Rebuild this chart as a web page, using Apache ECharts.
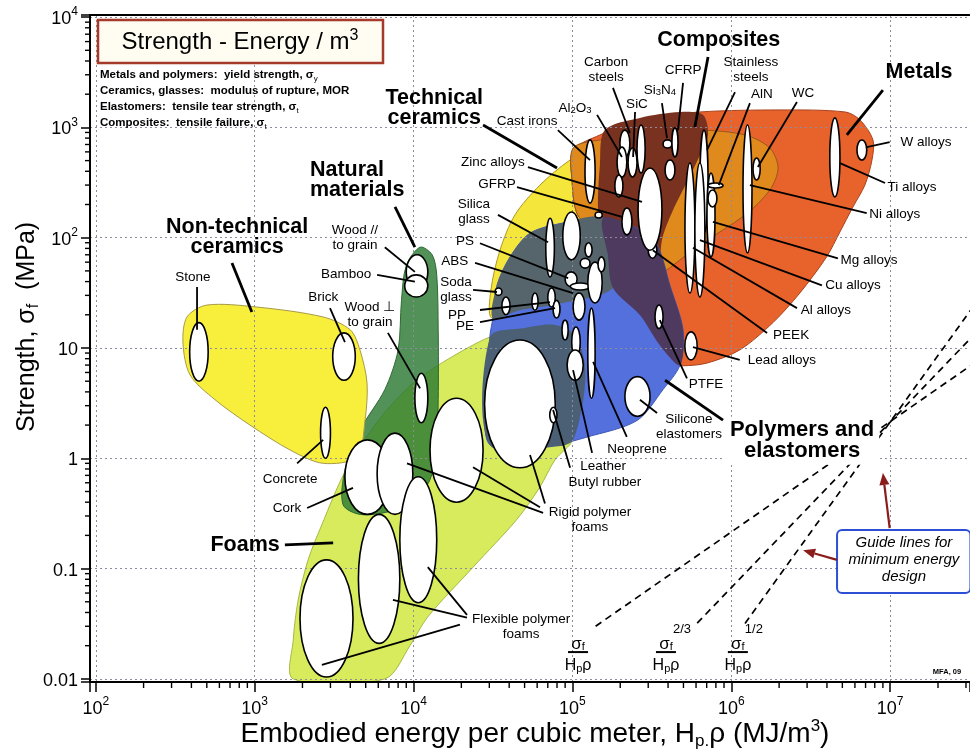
<!DOCTYPE html>
<html>
<head>
<meta charset="utf-8">
<title>Strength - Energy / m3</title>
<script src="https://cdn.jsdelivr.net/npm/echarts@6/dist/echarts.min.js"></script>
<style>
  html, body { margin: 0; padding: 0; background: #fff; }
  #chart { width: 970px; height: 752px; }
</style>
</head>
<body>
<div id="chart"></div>
<script>
const FONT = "'Liberation Sans', Arial, Helvetica, sans-serif";
const INK = '#000';

// Axis extents: embodied energy (MJ/m3) and strength (MPa)
const energyRange = [92, 3.18e7];
const strengthRange = [0.00937, 10450];
const strengthPlainLabels = { '-2': '0.01', '-1': '0.1', '0': '1', '1': '10' };
const minorTickSteps = [2, 3, 4, 5, 6, 7, 8, 9];
const energyDecades = [2, 3, 4, 5, 6, 7];
const strengthDecades = [-2, -1, 0, 1, 2, 3];

// Family envelopes, points as [energy, strength]
const foamsEnvelope = [[1750,0.01],[1750,0.0225],[1880,0.052],[2170,0.12],[2650,0.25],[3700,0.75],[6000,2.2],[9900,4.8],[16200,7.8],[30300,12.6],[50300,15.2],[77800,16.2],[104000,13.1],[120000,7.0],[117000,3.4],[101000,1.47],[77800,0.97],[62500,0.55],[44800,0.28],[23700,0.103],[12200,0.036],[9500,0.02],[6600,0.01]];
const naturalEnvelope = [[11000,82],[13100,70],[14000,46],[14300,14.6],[14300,3.4],[13900,1.19],[12700,0.64],[10200,0.42],[7100,0.33],[4600,0.31],[3600,0.38],[3700,0.78],[4600,1.8],[6600,4.2],[8000,9.6],[8400,27],[9000,56]];
const nonTechCeramicsEnvelope = [[500,24.5],[1035,23.5],[2700,19.1],[4000,14.6],[4600,9.6],[5100,4.8],[4950,2.2],[4400,1.03],[2700,0.9],[1670,1.19],[935,2.0],[563,3.4],[392,5.7],[354,11.1],[375,19.1]];
const techCeramicsEnvelope = [[31000,18.7],[30700,33.6],[35000,77],[43500,161],[62500,300],[96700,506],[149000,692],[308000,890],[635000,945],[1220000,854],[1750000,650],[1970000,428],[1750000,271],[1220000,161],[635000,86],[355000,46],[191000,33.6],[87300,25.6],[46700,22]];
const metalsEnvelope = [[101000,620],[149000,854],[266000,1170],[635000,1380],[2020000,1440],[5200000,1380],[6450000,1170],[7790000,770],[7680000,506],[6930000,300],[5830000,190],[4830000,113],[3980000,67],[2700000,31.5],[1830000,17],[1130000,9.6],[703000,7.3],[497000,6.9],[400000,7.2],[341000,11.8],[308000,27],[230000,56],[149000,106],[108000,161],[99400,334]];
const ceramicMetalOverlap = [[101000,650],[149000,770],[308000,890],[635000,945],[1220000,854],[1750000,650],[1970000,428],[1750000,271],[1220000,161],[635000,86],[355000,46],[266000,37],[230000,56],[149000,106],[108000,161],[99400,334]];
const compositesEnvelope = [[160000,945],[266000,1220],[475000,1380],[663000,1300],[714000,854],[635000,562],[534000,334],[430000,178],[366000,95],[355000,46],[341000,24.5],[248000,27],[177000,37],[156000,77],[145000,178],[149000,456]];
const polymersEnvelope = [[31600,18.7],[33500,37],[40500,67],[54100,110],[87300,136],[156000,151],[255000,122],[341000,86],[411000,37],[497000,14.6],[475000,7.0],[372000,4.2],[255000,2.2],[124000,1.56],[75600,1.32],[30300,1.32],[29400,5.1],[30300,13.1]];
const polymerCeramicOverlap = [[31600,18.7],[33500,37],[40500,67],[54100,110],[87300,136],[156000,151],[167000,70],[180000,35],[87300,25.6],[46700,22]];
const polymerCompositeOverlap = [[156000,151],[255000,122],[341000,86],[411000,37],[497000,14.6],[475000,7.0],[355000,10.6],[266000,19.9],[180000,35],[167000,70]];
const polymerFoamOverlap = [[30300,12.6],[50300,15.2],[77800,16.2],[104000,13.1],[120000,7.0],[117000,3.4],[101000,1.47],[84700,1.29],[30300,1.32]];

// Material property ranges: [name, energy low, energy high, strength low, strength high]
const ceramicAndNaturalMaterials = [
  ['Stone', 390, 510, 5, 17],
  ['Brick', 3100, 4300, 5.1, 13.7],
  ['Concrete', 2600, 3000, 1.0, 2.9],
  ['Wood, parallel to grain', 9000, 12300, 34, 70],
  ['Bamboo', 8800, 12300, 29, 46],
  ['Wood, transverse to grain', 10200, 12300, 2.1, 5.9]
];
const foamMaterials = [
  ['Cork', 3700, 7100, 0.31, 1.47],
  ['Rigid polymer foam, low density', 5900, 9900, 0.31, 1.69],
  ['Rigid polymer foam, medium density', 12700, 27400, 0.40, 3.5],
  ['Rigid polymer foam, high density', 28000, 78000, 0.82, 11.8],
  ['Flexible polymer foam, low density', 1930, 4160, 0.0104, 0.12],
  ['Flexible polymer foam, medium density', 4500, 8200, 0.021, 0.31],
  ['Flexible polymer foam, high density', 8200, 14000, 0.049, 0.68]
];
const polymerAndGlassMaterials = [
  ['Silica glass', 68000, 77000, 44, 150],
  ['Borosilicate glass', 87000, 112000, 63, 171],
  ['PS', 90000, 107000, 36, 49],
  ['ABS', 97000, 129000, 33.6, 38.8],
  ['PC', 101000, 120000, 17.9, 31.5],
  ['PMMA', 125000, 154000, 25.6, 60],
  ['PA', 112000, 129000, 53, 65],
  ['PET', 120000, 133000, 67, 90],
  ['Epoxies', 145000, 160000, 49, 67],
  ['Soda glass', 32600, 36000, 30, 35],
  ['PP', 36000, 40500, 20, 29],
  ['PE', 55600, 60800, 22, 31.5],
  ['Ionomer', 70000, 78000, 23.5, 35],
  ['EVA', 75600, 83500, 18.7, 27],
  ['Polyurethane', 86000, 94000, 11.8, 17.9],
  ['Isoprene', 99000, 112000, 8.3, 15.5],
  ['Leather', 92600, 117000, 5.1, 9.6],
  ['Neoprene', 125000, 139000, 3.5, 23],
  ['Butyl rubber', 72000, 80000, 2.1, 2.9],
  ['Silicone elastomers', 214000, 308000, 2.4, 5.5],
  ['PTFE', 331000, 372000, 15, 24.5],
  ['PEEK', 300000, 340000, 65, 91]
];
const metalAndCompositeMaterials = [
  ['Lead alloys', 510000, 610000, 7.8, 14],
  ['GFRP', 205000, 237000, 106, 186],
  ['Boron carbide', 139000, 154000, 151, 171],
  ['Zinc alloys', 259000, 366000, 77, 428],
  ['Cast irons', 120000, 139000, 206, 770],
  ['Al2O3', 199000, 230000, 540, 945],
  ['Carbon steels', 191000, 220000, 355, 663],
  ['Low alloy steels', 185000, 208000, 234, 370],
  ['SiC', 224000, 255000, 355, 650],
  ['Tool steels', 255000, 287000, 386, 1050],
  ['Si3N4', 372000, 423000, 650, 770],
  ['CFRP', 423000, 462000, 540, 990],
  ['Tin alloys', 383000, 442000, 334, 506],
  ['Stainless steels', 635000, 714000, 110, 945],
  ['Al alloys', 511000, 590000, 31.5, 475],
  ['Mg alloys', 590000, 682000, 29, 475],
  ['Cu alloys', 703000, 790000, 67, 386],
  ['AlN', 714000, 887000, 282, 313],
  ['Brass', 714000, 812000, 190, 271],
  ['Ni alloys', 1185000, 1350000, 73, 1050],
  ['WC', 1370000, 1520000, 334, 528],
  ['Ti alloys', 4170000, 4830000, 234, 1220],
  ['W alloys', 6180000, 7120000, 506, 769]
];

// Minimum-energy guide lines, sigma^n / (Hp rho) = const for n = 1, 2/3, 1/2: [E1, s1, E2, s2]
const guideLines = [
  [1.4e5, 0.030, 3.2e7, 6.9],
  [6.1e5, 0.032, 3.2e7, 12.2],
  [1.22e6, 0.0318, 3.2e7, 21.9]
];
const guideIndexLabels = [['', 1.085e5], ['2/3', 3.88e5], ['1/2', 1.1e6]];
const guideIndexStrength = 0.0175;

// Family labels and their leader lines
const familyLabels = [
  ['Composites', 834000, 6200, 'center'],
  ['Metals', 1.52e7, 3180, 'center'],
  ['Technical\nceramics', 13500, 1500, 'center'],
  ['Natural\nmaterials', 2230, 334, 'left'],
  ['Non-technical\nceramics', 776, 101, 'center'],
  ['Foams', 871, 0.164, 'center']
];
const polymerFamilyLabel = ['Polymers and\nelastomers', 2790000, 1.44];
const familyLeaders = [
  [714000, 4350, 590000, 1010],
  [9000000, 2180, 5340000, 854],
  [27400, 1050, 80000, 428],
  [7650, 190, 10200, 82],
  [720, 59, 960, 21.2],
  [1550, 0.164, 3120, 0.171],
  [887000, 2.22, 383000, 5.1]
];

// Material labels and leader lines
const materialLabels = [
  ['Stone', 409, 44], ['Brick', 2700, 29], ['Wood //\nto grain', 4280, 100], ['Bamboo', 3760, 47],
  ['Wood \u22a5\nto grain', 5320, 20], ['Concrete', 1670, 0.65], ['Cork', 1600, 0.354],
  ['Rigid polymer\nfoams', 129000, 0.276], ['Flexible polymer\nfoams', 47500, 0.0295],
  ['Leather', 156000, 0.85], ['Butyl rubber', 160000, 0.61], ['Neoprene', 255000, 1.21],
  ['Silicone\nelastomers', 541000, 1.92], ['PTFE', 693000, 4.7], ['Lead alloys', 2080000, 7.8],
  ['PEEK', 2380000, 13.1], ['Al alloys', 3940000, 22], ['Cu alloys', 5830000, 37],
  ['Mg alloys', 7350000, 63], ['Ni alloys', 10700000, 164], ['Ti alloys', 13700000, 288],
  ['W alloys', 16800000, 737], ['WC', 2830000, 2050], ['AlN', 1560000, 2010],
  ['Stainless\nsteels', 1330000, 3310], ['CFRP', 497000, 3310], ['Si{sub|3}N{sub|4}', 355000, 2180],
  ['SiC', 255000, 1630], ['Carbon\nsteels', 163000, 3310], ['Al{sub|2}O{sub|3}', 104000, 1500],
  ['Cast irons', 51800, 1140], ['Zinc alloys', 31600, 485], ['GFRP', 33500, 307],
  ['Silica\nglass', 24000, 171], ['PS', 21100, 93], ['ABS', 18200, 61], ['Soda\nglass', 18500, 33.6],
  ['PP', 18800, 19.9], ['PE', 21100, 15.8]
];
const materialLeaders = [
  [434, 35.7, 434, 14.6], [2980, 23, 3700, 11.3], [6600, 82, 10200, 49], [5900, 46, 10200, 40],
  [6900, 13.7, 11000, 4.3], [1850, 0.9, 2700, 1.47], [2140, 0.354, 4160, 0.54],
  [65400, 0.32, 9100, 0.9], [62500, 0.36, 23700, 0.83], [67200, 0.39, 54100, 1.07],
  [21700, 0.036, 7420, 0.052], [21700, 0.038, 12300, 0.103], [19600, 0.031, 2650, 0.0134],
  [133000, 1.12, 101000, 6.3], [96700, 0.82, 75600, 2.74], [220000, 1.56, 135000, 7.5],
  [341000, 2.57, 266000, 3.4], [526000, 5.3, 355000, 17.9], [1130000, 7.8, 574000, 10.2],
  [1680000, 13.7, 321000, 77], [2590000, 23, 574000, 81], [3720000, 37, 635000, 95],
  [4690000, 65, 766000, 139], [7120000, 167, 1310000, 300], [9280000, 313, 4830000, 475],
  [9930000, 737, 7120000, 663], [2590000, 1700, 1470000, 437], [1310000, 1660, 834000, 300],
  [1055000, 2090, 703000, 623], [497000, 2530, 462000, 945], [366000, 1660, 394000, 800],
  [248000, 1380, 241000, 540], [180000, 2280, 230000, 890], [143000, 1300, 205000, 540],
  [81000, 945, 129000, 506], [52500, 437, 274000, 211], [44800, 288, 208000, 154],
  [34000, 161, 70300, 91], [26200, 89, 94000, 43], [24400, 59, 101000, 31.5],
  [23700, 33.6, 33500, 32.2], [26200, 22.1, 72200, 26.1], [26200, 17.2, 77800, 23]
];

// Guide-line note box and its arrows
const noteBox = [4.63e6, 0.224, 3.2e7, 0.06];
const noteAnchor = [1.22e7, 0.12];
const noteArrows = [[9.93e6, 0.233, 9.0e6, 0.736], [4.63e6, 0.12, 2.83e6, 0.147]];
const creditAnchor = [2.28e7, 0.0116];

// Drawing order and fills of the envelopes
const envelopeLayers = [
  { pts: foamsEnvelope, fill: '#d8eb5c', stroke: '#a9b845' },
  { pts: naturalEnvelope, fill: 'rgba(44,122,52,0.82)', stroke: '#2e6a33' },
  { pts: nonTechCeramicsEnvelope, fill: '#f8ef3c', stroke: '#a89a4a' },
  { pts: techCeramicsEnvelope, fill: '#f4e63a', stroke: '#b0962a' },
  { pts: metalsEnvelope, fill: '#e8622c', stroke: '#a8421c' },
  { pts: ceramicMetalOverlap, fill: '#e0891c', stroke: '#98561a' },
  { pts: compositesEnvelope, fill: '#7a3220', stroke: null },
  { pts: polymersEnvelope, fill: '#5470dc', stroke: '#4058b4' },
  { pts: polymerCeramicOverlap, fill: '#56656c', stroke: null },
  { pts: polymerCompositeOverlap, fill: '#4d3a5e', stroke: null },
  { pts: polymerFoamOverlap, fill: '#4b5f75', stroke: null }
];

function powerLabel(v, plain) {
  const e = Math.log10(v), r = Math.round(e);
  if (Math.abs(e - r) > 1e-3) return '';
  if (plain && plain[r] !== undefined) return '{b|' + plain[r] + '}';
  return '{b|10}{s|' + r + '}';
}
const tickRich = {
  b: { fontSize: 18, fontFamily: FONT, color: INK, lineHeight: 22, verticalAlign: 'bottom' },
  s: { fontSize: 12, fontFamily: FONT, color: INK, lineHeight: 12, verticalAlign: 'top' }
};
const gridLineStyle = { color: '#8c8c9c', width: 1, type: [2, 3] };

function txt(text, x, y, o) {
  const st = Object.assign({
    text: text, fill: INK, fontFamily: FONT, fontSize: 13.5, fontWeight: 'normal',
    align: 'center', textAlign: 'center', verticalAlign: 'middle', textVerticalAlign: 'middle'
  }, o || {});
  if (st.align) st.textAlign = st.align;
  return { type: 'text', x: x, y: y, style: st };
}
const subRich = (size) => ({
  sub: { fontSize: size, fontFamily: FONT, fill: INK, color: INK, lineHeight: size, verticalAlign: 'bottom' },
  sup: { fontSize: size, fontFamily: FONT, fill: INK, color: INK, lineHeight: size, verticalAlign: 'top' }
});

const allMaterials = ceramicAndNaturalMaterials.concat(foamMaterials, polymerAndGlassMaterials, metalAndCompositeMaterials);

const series = [
  // envelopes
  {
    type: 'custom', z: 1, silent: true, clip: true,
    data: envelopeLayers.map(l => [l.pts[0][0], l.pts[0][1]]),
    encode: { x: 0, y: 1 },
    renderItem(params, api) {
      const l = envelopeLayers[params.dataIndex];
      return {
        type: 'polygon',
        shape: { points: l.pts.map(p => api.coord(p)), smooth: 0.3 },
        style: { fill: l.fill, stroke: l.stroke || 'none', lineWidth: l.stroke ? 1 : 0 }
      };
    }
  },
  // minor log ticks on both axes
  {
    type: 'custom', z: 3, silent: true, clip: false,
    data: [[energyRange[0], strengthRange[0]]],
    encode: { x: 0, y: 1 },
    renderItem(params, api) {
      const o = api.coord([energyRange[0], strengthRange[0]]);
      const children = [];
      energyDecades.forEach(d => minorTickSteps.forEach(k => {
        const v = k * Math.pow(10, d);
        if (v <= energyRange[0] || v >= energyRange[1]) return;
        const x = api.coord([v, strengthRange[0]])[0];
        children.push({ type: 'line', shape: { x1: x, y1: o[1], x2: x, y2: o[1] + 6 }, style: { stroke: INK, lineWidth: 1.4 } });
      }));
      strengthDecades.forEach(d => minorTickSteps.forEach(k => {
        const v = k * Math.pow(10, d);
        if (v <= strengthRange[0] || v >= strengthRange[1]) return;
        const y = api.coord([energyRange[0], v])[1];
        children.push({ type: 'line', shape: { x1: o[0], y1: y, x2: o[0] - 5, y2: y }, style: { stroke: INK, lineWidth: 1.4 } });
      }));
      return { type: 'group', children: children };
    }
  },
  // guide lines
  {
    type: 'custom', z: 4, silent: true, clip: true,
    data: guideLines,
    encode: { x: [0, 2], y: [1, 3] },
    renderItem(params, api) {
      const a = api.coord([api.value(0), api.value(1)]);
      const b = api.coord([api.value(2), api.value(3)]);
      return { type: 'line', shape: { x1: a[0], y1: a[1], x2: b[0], y2: b[1] },
        style: { stroke: INK, lineWidth: 1.7, lineDash: [7, 5] } };
    }
  },
  // material ellipses
  {
    type: 'custom', z: 5, silent: true, clip: true,
    data: allMaterials.map(m => [m[1], m[2], m[3], m[4]]),
    encode: { x: [0, 1], y: [2, 3] },
    renderItem(params, api) {
      const a = api.coord([api.value(0), api.value(2)]);
      const b = api.coord([api.value(1), api.value(3)]);
      return { type: 'ellipse',
        shape: { cx: (a[0] + b[0]) / 2, cy: (a[1] + b[1]) / 2, rx: Math.abs(b[0] - a[0]) / 2, ry: Math.abs(b[1] - a[1]) / 2 },
        style: { fill: '#fff', stroke: INK, lineWidth: 1.6 } };
    }
  },
  // leader lines
  {
    type: 'custom', z: 6, silent: true, clip: false,
    data: materialLeaders,
    encode: { x: [0, 2], y: [1, 3] },
    renderItem(params, api) {
      const a = api.coord([api.value(0), api.value(1)]);
      const b = api.coord([api.value(2), api.value(3)]);
      return { type: 'line', shape: { x1: a[0], y1: a[1], x2: b[0], y2: b[1] }, style: { stroke: INK, lineWidth: 1.8 } };
    }
  },
  {
    type: 'custom', z: 6, silent: true, clip: false,
    data: familyLeaders,
    encode: { x: [0, 2], y: [1, 3] },
    renderItem(params, api) {
      const a = api.coord([api.value(0), api.value(1)]);
      const b = api.coord([api.value(2), api.value(3)]);
      return { type: 'line', shape: { x1: a[0], y1: a[1], x2: b[0], y2: b[1] }, style: { stroke: INK, lineWidth: 2.8 } };
    }
  },
  // material labels
  {
    type: 'custom', z: 7, silent: true, clip: false,
    data: materialLabels.map(l => [l[1], l[2]]),
    encode: { x: 0, y: 1 },
    renderItem(params, api) {
      const l = materialLabels[params.dataIndex];
      const p = api.coord([l[1], l[2]]);
      return txt(l[0], p[0], p[1], { lineHeight: 15, rich: subRich(9.5) });
    }
  },
  // family labels
  {
    type: 'custom', z: 7, silent: true, clip: false,
    data: familyLabels.map(l => [l[1], l[2]]),
    encode: { x: 0, y: 1 },
    renderItem(params, api) {
      const l = familyLabels[params.dataIndex];
      const p = api.coord([l[1], l[2]]);
      return txt(l[0], p[0], p[1], { fontSize: 21.5, fontWeight: 'bold', lineHeight: 20, align: l[3] });
    }
  },
  {
    type: 'custom', z: 8, silent: true, clip: false,
    data: [[polymerFamilyLabel[1], polymerFamilyLabel[2]]],
    encode: { x: 0, y: 1 },
    renderItem(params, api) {
      const p = api.coord([polymerFamilyLabel[1], polymerFamilyLabel[2]]);
      return txt(polymerFamilyLabel[0], p[0], p[1], { fontSize: 22, fontWeight: 'bold', lineHeight: 21,
        backgroundColor: '#fff', padding: [3, 5, 3, 5] });
    }
  },
  // guide-line index labels
  {
    type: 'custom', z: 7, silent: true, clip: false,
    data: guideIndexLabels.map(g => [g[1], guideIndexStrength]),
    encode: { x: 0, y: 1 },
    renderItem(params, api) {
      const g = guideIndexLabels[params.dataIndex];
      const p = api.coord([g[1], guideIndexStrength]);
      const kids = [
        txt('\u03c3{sub|f}', p[0], p[1] - 8, { fontSize: 17, rich: subRich(11) }),
        { type: 'line', shape: { x1: p[0] - 10, y1: p[1], x2: p[0] + 10, y2: p[1] }, style: { stroke: INK, lineWidth: 2 } },
        txt('H{sub|p}\u03c1', p[0], p[1] + 14, { fontSize: 16, rich: subRich(11) })
      ];
      if (g[0]) kids.push(txt(g[0], p[0] + 7, p[1] - 23, { fontSize: 13, align: 'left' }));
      return { type: 'group', children: kids };
    }
  },
  // guide note box, arrows and credit
  {
    type: 'custom', z: 8, silent: true, clip: false,
    data: [[noteBox[0], noteBox[1]]],
    encode: { x: 0, y: 1 },
    renderItem(params, api) {
      const a = api.coord([noteBox[0], noteBox[1]]);
      const b = api.coord([noteBox[2], noteBox[3]]);
      const t = api.coord(noteAnchor);
      const c = api.coord(creditAnchor);
      const kids = [
        { type: 'rect', shape: { x: a[0], y: a[1], width: b[0] - a[0], height: b[1] - a[1], r: 5 },
          style: { fill: '#fff', stroke: '#2c4fd6', lineWidth: 2 } },
        txt('Guide lines for\nminimum energy\ndesign', t[0], t[1], { fontSize: 15, fontStyle: 'italic', lineHeight: 17 }),
        txt('MFA, 09', c[0], c[1], { fontSize: 7.5, fontWeight: 'bold' })
      ];
      noteArrows.forEach(ar => {
        const s = api.coord([ar[0], ar[1]]);
        const e = api.coord([ar[2], ar[3]]);
        const ang = Math.atan2(e[1] - s[1], e[0] - s[0]);
        const L = 12, W = 5;
        const bx = e[0] - L * Math.cos(ang), by = e[1] - L * Math.sin(ang);
        kids.push({ type: 'line', shape: { x1: s[0], y1: s[1], x2: bx, y2: by }, style: { stroke: '#8b1c1c', lineWidth: 2.2 } });
        kids.push({ type: 'polygon', shape: { points: [e,
          [bx + W * Math.sin(ang), by - W * Math.cos(ang)],
          [bx - W * Math.sin(ang), by + W * Math.cos(ang)]] }, style: { fill: '#8b1c1c' } });
      });
      return { type: 'group', children: kids };
    }
  }
];

const chart = echarts.init(document.getElementById('chart'), null, { renderer: 'canvas' });
chart.setOption({
  backgroundColor: '#fff',
  animation: false,
  grid: { left: 90, right: 0, top: 15, bottom: 70, containLabel: false, outerBoundsMode: 'none' },
  xAxis: [{
    type: 'log', logBase: 10, min: energyRange[0], max: energyRange[1], z: 3,
    axisLine: { show: true, onZero: false, lineStyle: { color: INK, width: 2 } },
    axisTick: { show: true, length: 10, lineStyle: { color: INK, width: 1.5 } },
    axisLabel: { formatter: v => powerLabel(v), margin: 14, rich: tickRich },
    splitLine: { show: true, showMinLine: false, showMaxLine: false, lineStyle: gridLineStyle },
    minorTick: { show: false }
  }, {
    type: 'log', logBase: 10, min: energyRange[0], max: energyRange[1], position: 'top', z: 3,
    axisLine: { show: true, onZero: false, lineStyle: { color: INK, width: 2 } },
    axisTick: { show: false }, axisLabel: { show: false }, splitLine: { show: false }
  }],
  yAxis: {
    type: 'log', logBase: 10, min: strengthRange[0], max: strengthRange[1], z: 3,
    axisLine: { show: true, onZero: false, lineStyle: { color: INK, width: 2 } },
    axisTick: { show: true, length: 9, lineStyle: { color: INK, width: 1.5 } },
    axisLabel: { formatter: v => powerLabel(v, strengthPlainLabels), margin: 12, rich: tickRich },
    splitLine: { show: true, showMinLine: false, showMaxLine: false, lineStyle: gridLineStyle }
  },
  graphic: [
    { type: 'rect', z: 20, shape: { x: 98, y: 20, width: 285, height: 43 },
      style: { fill: '#fffdf2', stroke: '#a53a2a', lineWidth: 2.5 } },
    { type: 'text', z: 21, x: 240, y: 42,
      style: { text: 'Strength - Energy / m{sup|3}', fill: INK, fontFamily: FONT, fontSize: 24,
        align: 'center', textAlign: 'center', verticalAlign: 'middle', textVerticalAlign: 'middle', lineHeight: 28,
        rich: { sup: { fontSize: 16, fontFamily: FONT, fill: INK, lineHeight: 16, verticalAlign: 'top' } } } },
    { type: 'text', z: 21, x: 100, y: 67,
      style: { text: 'Metals and polymers:  yield strength, \u03c3{sub|y}\nCeramics, glasses:  modulus of rupture, MOR\nElastomers:  tensile tear strength, \u03c3{sub|t}\nComposites:  tensile failure, \u03c3{sub|t}',
        fill: INK, fontFamily: FONT, fontSize: 11.5, fontWeight: 'bold', lineHeight: 16,
        align: 'left', textAlign: 'left', verticalAlign: 'top', textVerticalAlign: 'top',
        rich: { sub: { fontSize: 8, fontFamily: FONT, fill: INK, lineHeight: 8, verticalAlign: 'bottom' } } } },
    { type: 'text', z: 21, x: 535, y: 734,
      style: { text: 'Embodied energy per cubic meter, H{sub|p.}\u03c1 (MJ/m{sup|3})', fill: INK, fontFamily: FONT, fontSize: 28,
        align: 'center', textAlign: 'center', verticalAlign: 'middle', textVerticalAlign: 'middle', lineHeight: 32,
        rich: { sub: { fontSize: 17, fontFamily: FONT, fill: INK, lineHeight: 17, verticalAlign: 'bottom' },
                sup: { fontSize: 17, fontFamily: FONT, fill: INK, lineHeight: 17, verticalAlign: 'top' } } } },
    { type: 'text', z: 21, x: 27, y: 327, rotation: Math.PI / 2,
      style: { text: 'Strength, \u03c3{sub|f}  (MPa)', fill: INK, fontFamily: FONT, fontSize: 25,
        align: 'center', textAlign: 'center', verticalAlign: 'middle', textVerticalAlign: 'middle', lineHeight: 30,
        rich: { sub: { fontSize: 16, fontFamily: FONT, fill: INK, lineHeight: 16, verticalAlign: 'bottom' } } } }
  ],
  series: series
});
</script>
</body>
</html>
